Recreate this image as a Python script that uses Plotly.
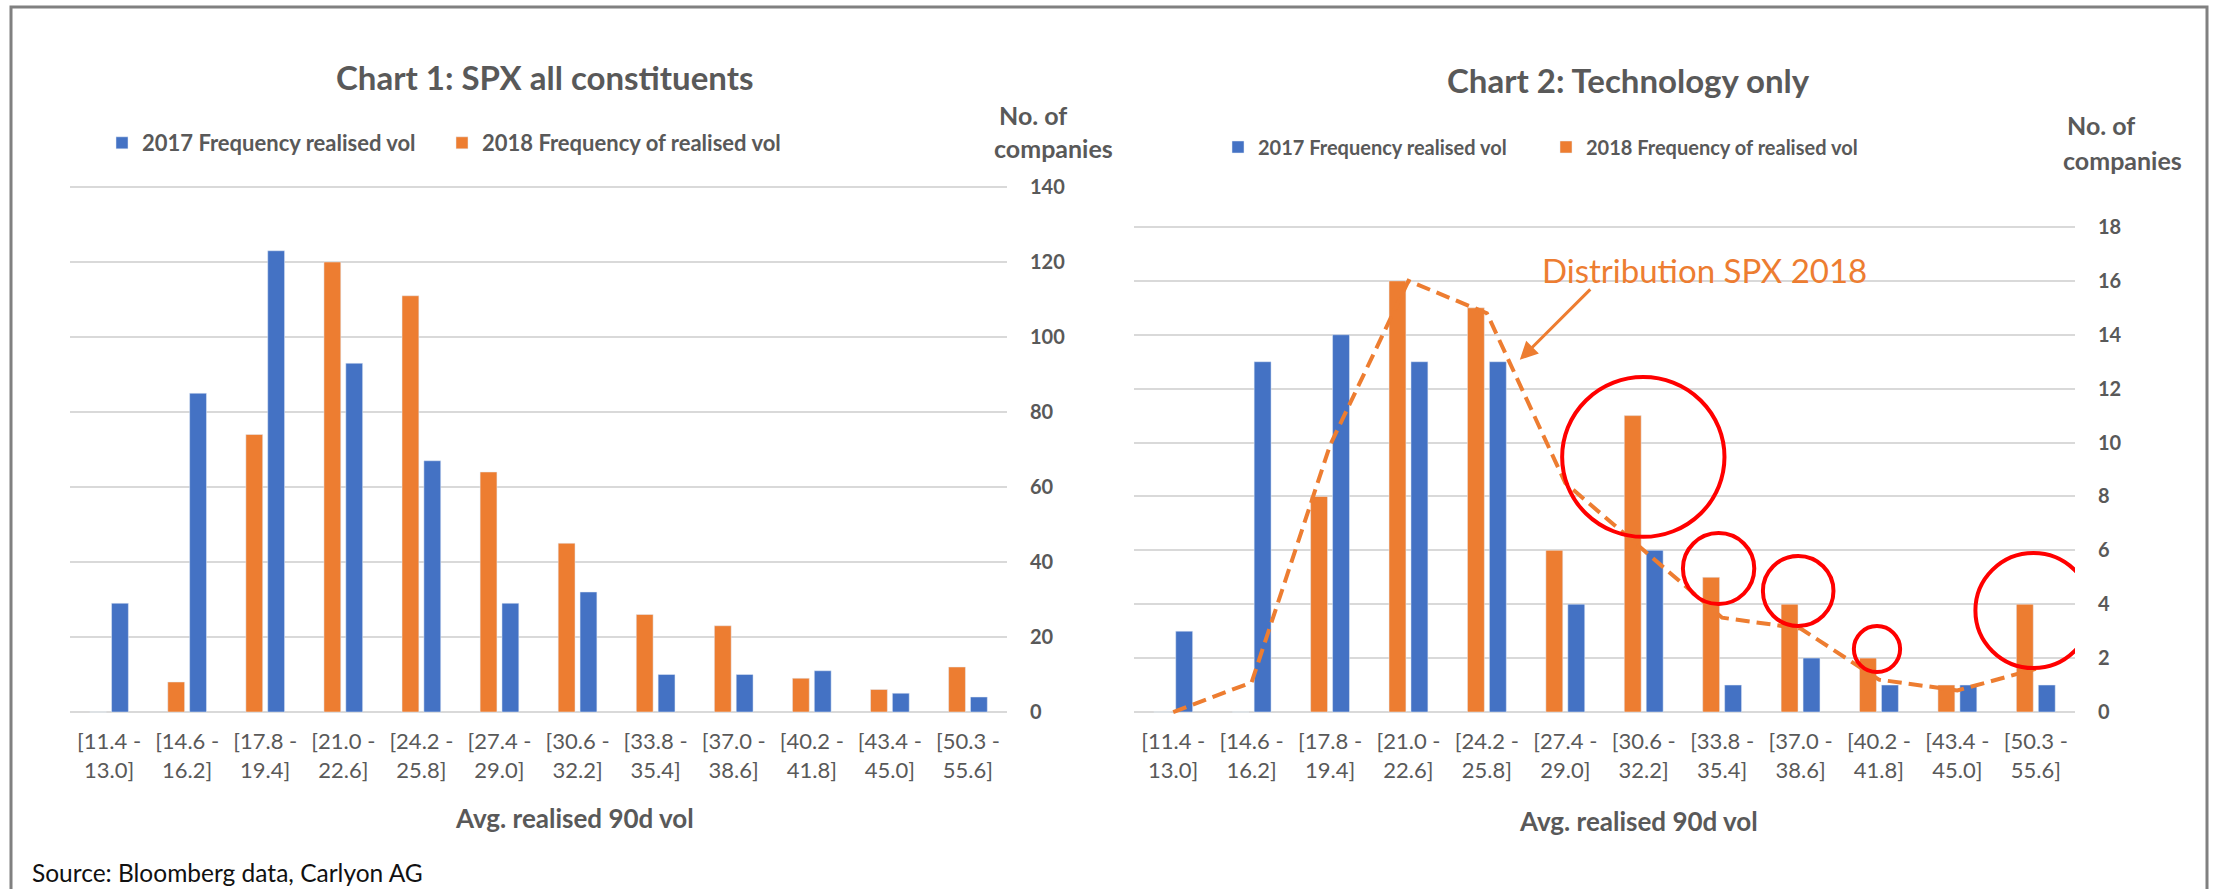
import plotly.graph_objects as go

W, H = 2214, 889

categories = ["[11.4 - 13.0]", "[14.6 - 16.2]", "[17.8 - 19.4]", "[21.0 - 22.6]",
              "[24.2 - 25.8]", "[27.4 - 29.0]", "[30.6 - 32.2]", "[33.8 - 35.4]",
              "[37.0 - 38.6]", "[40.2 - 41.8]", "[43.4 - 45.0]", "[50.3 - 55.6]"]
tick_labels = [c.replace(" - ", " -<br>") for c in categories]
x_idx = list(range(len(categories)))

spx_2017 = [29, 85, 123, 93, 67, 29, 32, 10, 10, 11, 5, 4]
spx_2018 = [0, 8, 74, 120, 111, 64, 45, 26, 23, 9, 6, 12]

tech_2017 = [3, 13, 14, 13, 13, 4, 6, 1, 2, 1, 1, 1]
tech_2018 = [0, 0, 8, 16, 15, 6, 11, 5, 4, 2, 1, 4]
spx_2018_dist = [0, 1.1, 9.9, 16, 14.8, 8.5, 6.0, 3.5, 3.1, 1.2, 0.8, 1.6]

# highlighted ellipses on chart 2: (x index from, x index to, y from, y to)
ellipses = [(4.96, 7.03, 6.5, 12.43), (6.50, 7.41, 4.01, 6.64), (7.52, 8.42, 3.19, 5.79),
            (8.68, 9.27, 1.48, 3.19), (10.23, 11.71, 1.63, 5.90)]

BLUE = "#4472C4"
ORANGE = "#ED7D31"
TXT = "#595959"
FONT = "Lato"


def px_x(p):
    return p / W


def px_y(p):
    return 1 - p / H


fig = go.Figure()
fig.add_trace(go.Bar(x=x_idx, y=spx_2018, name="2018 Frequency of realised vol", marker_color=ORANGE,
                     xaxis="x", yaxis="y", legend="legend", legendrank=2))
fig.add_trace(go.Bar(x=x_idx, y=spx_2017, name="2017 Frequency realised vol", marker_color=BLUE,
                     xaxis="x", yaxis="y", legend="legend", legendrank=1))
fig.add_trace(go.Bar(x=x_idx, y=tech_2018, name="2018 Frequency of realised vol", marker_color=ORANGE,
                     xaxis="x2", yaxis="y2", legend="legend2", legendrank=2))
fig.add_trace(go.Bar(x=x_idx, y=tech_2017, name="2017 Frequency realised vol", marker_color=BLUE,
                     xaxis="x2", yaxis="y2", legend="legend2", legendrank=1))
fig.add_trace(go.Scatter(x=x_idx, y=spx_2018_dist, mode="lines", showlegend=False,
                         line=dict(color=ORANGE, width=4, dash="14px,7px"),
                         xaxis="x2", yaxis="y2"))

xcommon = dict(range=[-0.5, 11.5], tickvals=x_idx, ticktext=tick_labels, showgrid=False,
               zeroline=False, showline=False, ticks="", automargin=False,
               tickfont=dict(family=FONT, size=22, color=TXT), ticklabelstandoff=12)
ycommon = dict(side="right", showgrid=True, gridcolor="#D9D9D9", gridwidth=2, zeroline=False,
               showline=False, ticks="", automargin=False,
               tickfont=dict(family=FONT, size=20, color=TXT, weight="bold"),
               ticklabelstandoff=22)

pad1 = 0.6   # small range padding so that the end gridlines are drawn
pad2 = 0.08
u1 = (712 - 187) / 140.0
u2 = (712 - 227) / 18.0

fig.update_layout(
    width=W, height=H, margin=dict(l=0, r=0, t=0, b=0, autoexpand=False),
    paper_bgcolor="white", plot_bgcolor="white",
    barmode="group", bargap=0.44, bargroupgap=0.23,
    xaxis=dict(domain=[px_x(70), px_x(1007)], anchor="y", **xcommon),
    yaxis=dict(domain=[px_y(712 + pad1 * u1), px_y(187 - pad1 * u1)], anchor="x",
               range=[-pad1, 140 + pad1], tickvals=list(range(0, 141, 20)), **ycommon),
    xaxis2=dict(domain=[px_x(1134), px_x(2075)], anchor="y2", **xcommon),
    yaxis2=dict(domain=[px_y(712 + pad2 * u2), px_y(227 - pad2 * u2)], anchor="x2",
                range=[-pad2, 18 + pad2], tickvals=list(range(0, 19, 2)), **ycommon),
    legend=dict(orientation="h", x=px_x(102), y=px_y(143), xanchor="left", yanchor="middle",
                font=dict(family=FONT, size=22, color=TXT, weight="bold"), entrywidth=295,
                bgcolor="rgba(0,0,0,0)", traceorder="normal"),
    legend2=dict(orientation="h", x=px_x(1218), y=px_y(147), xanchor="left", yanchor="middle",
                 font=dict(family=FONT, size=20, color=TXT, weight="bold"), entrywidth=283,
                 bgcolor="rgba(0,0,0,0)", traceorder="normal"),
    showlegend=True,
)

ann = []


def text(x, y, s, size, bold=True, color=TXT, xanchor="center"):
    ann.append(dict(x=px_x(x), y=px_y(y), xref="paper", yref="paper", text=s, showarrow=False,
                    xanchor=xanchor, yanchor="middle",
                    font=dict(family=FONT, size=size, color=color, weight="bold" if bold else "normal")))


text(545, 77, "Chart 1: SPX all constituents", 33)
text(1628, 80, "Chart 2: Technology only", 33)
text(1033, 115, "No. of", 25)
text(1053, 148, "companies", 25)
text(2101, 125, "No. of", 25)
text(2122, 160, "companies", 25)
text(574, 818, "Avg. realised 90d vol", 26)
text(1638, 821, "Avg. realised 90d vol", 26)
text(30, 872, "Source: Bloomberg data, Carlyon AG", 24.5, bold=False, color="#111111", xanchor="left")

ann.append(dict(x=6.77, y=16.4, xref="x2", yref="y2", text="Distribution SPX 2018", showarrow=False,
                font=dict(family=FONT, size=33, color=ORANGE)))
ann.append(dict(x=4.42, y=13.07, xref="x2", yref="y2", text="", showarrow=True, ax=72, ay=-72,
                arrowhead=2, arrowsize=1.2, arrowwidth=3, arrowcolor=ORANGE))

shapes = []
for (x0, x1, y0, y1) in ellipses:
    shapes.append(dict(type="circle", xref="x2", yref="y2", x0=x0, x1=x1, y0=y0, y1=y1,
                       line=dict(color="#FF0000", width=4)))
shapes.append(dict(type="rect", xref="paper", yref="paper", x0=px_x(11), x1=px_x(2207),
                   y0=-0.05, y1=px_y(7), line=dict(color="#808080", width=3), layer="above"))

fig.update_layout(annotations=ann, shapes=shapes)

fig.write_html("out.html")
